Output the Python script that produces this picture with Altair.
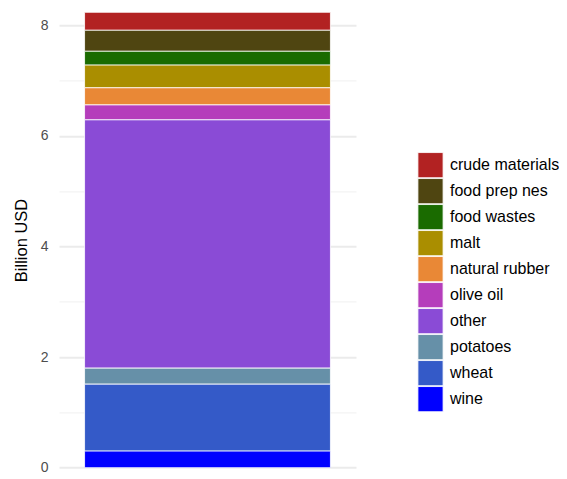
import altair as alt
import pandas as pd

categories = ["crude materials", "food prep nes", "food wastes", "malt", "natural rubber",
              "olive oil", "other", "potatoes", "wheat", "wine"]
values = [0.325, 0.38, 0.25, 0.41, 0.31, 0.27, 4.49, 0.29, 1.21, 0.30]
colors = ["#B22222", "#4F4511", "#1A6B00", "#AA8E00", "#E98836",
          "#B53DBB", "#8A4BD6", "#6690A8", "#345AC8", "#0000FF"]

df = pd.DataFrame({
    "cat": categories,
    "value": values,
    "x": ["all"] * len(categories),
    "rank": list(range(len(categories) - 1, -1, -1)),
})

total = sum(values)

chart = alt.Chart(df).mark_bar(stroke="white", strokeWidth=0.8).encode(
    x=alt.X("x:N", axis=None, scale=alt.Scale(paddingInner=0, paddingOuter=0.104)),
    y=alt.Y("sum(value):Q", title="Billion USD",
            scale=alt.Scale(domain=[0, total], nice=False, zero=True),
            axis=alt.Axis(values=[0, 1, 2, 3, 4, 5, 6, 7, 8],
                          labelExpr="datum.value % 2 == 0 ? datum.label : ''",
                          ticks=False, domain=False, labelPadding=11,
                          labelFontSize=14, labelColor="#4D4D4D", labelFont="Liberation Sans",
                          titleFont="Liberation Sans", titleFontSize=16.5, titleFontWeight="normal",
                          titleColor="#000000", titlePadding=11,
                          gridColor={"condition": {"test": "datum.value % 2 == 1", "value": "#F3F3F3"}, "value": "#EBEBEB"},
                          gridWidth={"condition": {"test": "datum.value % 2 == 1", "value": 1.2}, "value": 2})),
    color=alt.Color("cat:N", scale=alt.Scale(domain=categories, range=colors),
                    legend=alt.Legend(title=None, orient="none", legendX=358, legendY=140,
                                      symbolType="square", symbolSize=640, symbolStrokeColor="white",
                                      symbolStrokeWidth=1, symbolOpacity=1,
                                      labelFont="Liberation Sans", labelFontSize=16, labelColor="#000000",
                                      labelOffset=6, rowPadding=0, clipHeight=25.8, padding=0,
                                      labelLimit=200)),
    order=alt.Order("rank:Q", sort="ascending"),
).properties(
    width=297, height=455.4,
    autosize=alt.AutoSizeParams(type="none"),
    padding={"left": 51, "top": 4.3, "right": 203, "bottom": 12},
).configure_view(stroke=None)

chart.save("out.html", embed_options={"renderer": "svg", "actions": False})
